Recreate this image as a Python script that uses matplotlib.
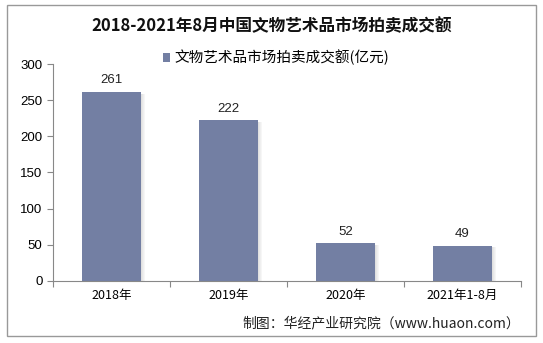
import matplotlib.pyplot as plt
from matplotlib.patches import Rectangle

plt.rcParams['font.family'] = ['Noto Sans CJK SC', 'DejaVu Sans']

years = ['2018年', '2019年', '2020年', '2021年1-8月']
amount = [261, 222, 52, 49]
bar_color = '#737FA3'

fig = plt.figure(figsize=(5.43, 3.43), dpi=100)
ax = fig.add_axes([0.0976, 0.1808, 0.862, 0.6326])

x = range(len(years))
bars = ax.bar(x, amount, width=0.5, color=bar_color, zorder=3, label='文物艺术品市场拍卖成交额(亿元)')
# soft shadow to the right of each bar
for b in bars:
    for k in range(4):
        ax.add_patch(Rectangle((b.get_x() + b.get_width() + k * 0.01, 0), 0.01, b.get_height() - 2,
                               color='black', alpha=0.12 - k * 0.028, lw=0, zorder=2))
for xi, v in zip(x, amount):
    ax.text(xi, v + 8, str(v), ha='center', va='bottom', fontsize=9.5, color='#222222',
            family=['Liberation Sans', 'DejaVu Sans'])

ax.set_xlim(-0.5, 3.5)
ax.set_ylim(0, 300)
ax.set_yticks(range(0, 301, 50))
ax.set_xticks([i - 0.5 for i in range(5)], minor=False)
ax.set_xticklabels([])
ax.set_xticks(list(x), minor=True)
ax.set_xticklabels(years, minor=True, fontsize=9)
ax.tick_params(axis='x', which='minor', length=0, pad=6)
ax.tick_params(axis='x', which='major', length=4, color='#888888')
ax.tick_params(axis='y', length=4, color='#888888', labelsize=9.5)
for lab in ax.get_yticklabels():
    lab.set_family(['Liberation Sans', 'DejaVu Sans'])
for s in ['top', 'right']:
    ax.spines[s].set_visible(False)
for s in ['left', 'bottom']:
    ax.spines[s].set_color('#888888')
    ax.spines[s].set_linewidth(0.8)

fig.text(0.5, 0.925, '2018-2021年8月中国文物艺术品市场拍卖成交额', ha='center', va='center',
         fontsize=12, fontweight='bold', color='#111111')
ax.legend(loc='upper center', bbox_to_anchor=(0.476, 1.125), frameon=False, fontsize=10.5,
          handlelength=0.5, handleheight=0.5, handletextpad=0.3)
fig.text(0.958, 0.058, '制图：华经产业研究院（www.huaon.com）', ha='right', va='center',
         fontsize=10, color='#222222')

fig.patches.append(Rectangle((7 / 543, 1 - 336 / 343), 529 / 543, 331 / 343, transform=fig.transFigure,
                             fill=False, edgecolor='#999999', lw=1))

fig.savefig('out.png', dpi=100)
